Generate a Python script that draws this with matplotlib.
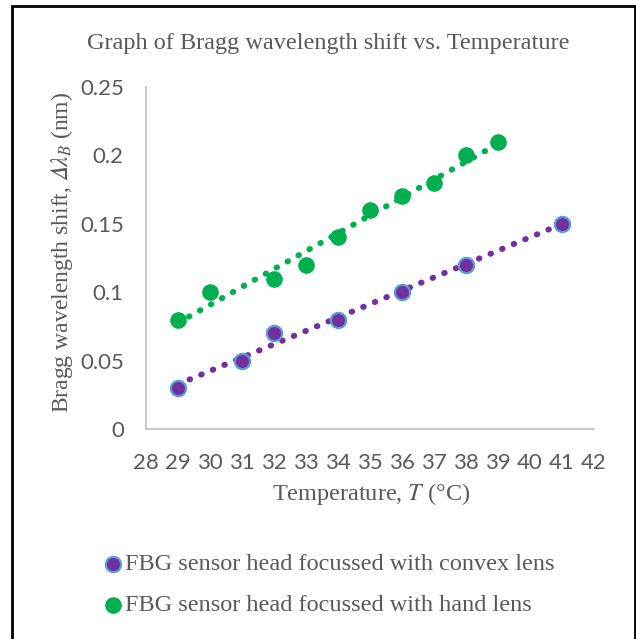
import matplotlib.pyplot as plt
import numpy as np
from matplotlib.patches import Rectangle

# data
temp_convex = [29, 31, 32, 34, 36, 38, 41]
shift_convex = [0.03, 0.05, 0.07, 0.08, 0.10, 0.12, 0.15]
temp_hand = [29, 30, 32, 33, 34, 35, 36, 37, 38, 39]
shift_hand = [0.08, 0.10, 0.11, 0.12, 0.14, 0.16, 0.17, 0.18, 0.20, 0.21]
x_ticks = list(range(28, 43))
y_ticks = [0, 0.05, 0.1, 0.15, 0.2, 0.25]
y_tick_labels = ["0", "0.05", "0.1", "0.15", "0.2", "0.25"]

plt.rcParams['mathtext.fontset'] = 'stix'
serif = "Liberation Serif"
text_grey = "#595959"
purple = "#7030A0"
blue_edge = "#5B9BD5"
green = "#00B050"

fig = plt.figure(figsize=(6.36, 6.39), dpi=100)
ax = fig.add_axes([146 / 636, 1 - 429 / 639, 448 / 636, 342 / 639])

# dotted linear trendlines
for xs, ys, col in [(temp_convex, shift_convex, purple), (temp_hand, shift_hand, green)]:
    k, b = np.polyfit(xs, ys, 1)
    xx = np.array([min(xs), max(xs)])
    ax.plot(xx, k * xx + b, color=col, lw=4.3, linestyle=(0, (0.1, 2.0)),
            dash_capstyle='round', zorder=2)

ax.scatter(temp_convex, shift_convex, s=120, color=purple, edgecolor=blue_edge,
           linewidth=1.6, zorder=3, label="FBG sensor head focussed with convex lens")
ax.scatter(temp_hand, shift_hand, s=120, color=green, edgecolor=green,
           linewidth=1.0, zorder=3, label="FBG sensor head focussed with hand lens")

ax.set_xlim(28, 42)
ax.set_ylim(0, 0.25)
ax.set_xticks(x_ticks)
ax.set_yticks(y_ticks)
ax.set_yticklabels(y_tick_labels)
ax.tick_params(length=0, labelsize=16, colors=text_grey)
ax.tick_params(axis="x", pad=17)
ax.tick_params(axis="y", pad=16)
for lab in ax.get_xticklabels() + ax.get_yticklabels():
    lab.set_fontfamily("Lato")
for side in ["top", "right"]:
    ax.spines[side].set_visible(False)
for side in ["left", "bottom"]:
    ax.spines[side].set_color("#BFBFBF")
    ax.spines[side].set_linewidth(1.2)

fig.text(328 / 636, 1 - 43 / 639, "Graph of Bragg wavelength shift vs. Temperature",
         ha="center", va="center", fontsize=17.5, family=serif, color=text_grey)
fig.text(371 / 636, 1 - 494 / 639, r"Temperature, $\mathit{T}$ (°C)",
         ha="center", va="center", fontsize=17.5, family=serif, color=text_grey)
fig.text(62 / 636, 1 - 252 / 639, "Bragg wavelength shift, $\U0001D6E5\\mathit{\\lambda_B}$ (nm)",
         ha="center", va="center", rotation=90, fontsize=17, family=serif, color=text_grey)

leg = fig.legend(loc="upper left", bbox_to_anchor=(102 / 636, 1 - 553 / 639),
                 frameon=False, handletextpad=0.05, labelspacing=0.78, borderpad=0,
                 borderaxespad=0, prop={"family": serif, "size": 17.5}, handlelength=0.9)
for t in leg.get_texts():
    t.set_color(text_grey)

fig.patches.append(Rectangle((12 / 636, -0.05), 623 / 636, 1.05 - 6 / 639,
                             transform=fig.transFigure, fill=False,
                             edgecolor="black", linewidth=2))

fig.savefig("out.png", dpi=100)
